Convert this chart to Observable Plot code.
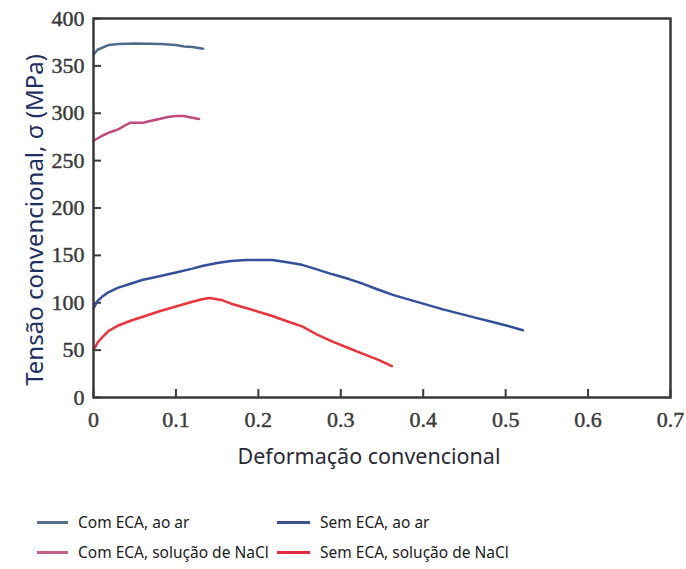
<!DOCTYPE html>
<html>
<head>
<meta charset="utf-8">
<script src="https://cdn.jsdelivr.net/npm/d3@7"></script>
<script src="https://cdn.jsdelivr.net/npm/@observablehq/plot@0.6"></script>
<style>
  html, body { margin: 0; padding: 0; background: #fff; }
  #wrap { position: relative; width: 686px; height: 569px; overflow: hidden; }
  .leg { position: absolute; font-family: "Noto Sans", sans-serif; font-size: 15.5px; color: #1a1a1a; white-space: nowrap; line-height: 20px; }
  .sw { position: absolute; height: 2.5px; }
  g[aria-label="x-axis tick label"] text, g[aria-label="y-axis tick label"] text { stroke: #3a3a3a; stroke-width: 0.45px; }
</style>
</head>
<body>
<div id="wrap"></div>
<script>
// ---- data ----
const comArX = [0, 0.005, 0.018, 0.031, 0.05, 0.082, 0.1, 0.11, 0.12, 0.133];
const comArY = [362, 367, 372, 373, 373.5, 373, 372, 370.5, 370, 368];

const comNaClX = [0, 0.01, 0.02, 0.03, 0.04, 0.045, 0.06, 0.07, 0.08, 0.09, 0.1, 0.11, 0.115, 0.128];
const comNaClY = [271, 276, 280, 283, 288, 290, 290, 292, 294, 296, 297, 297, 296, 294];

const semArX = [0, 0.005, 0.01, 0.018, 0.03, 0.045, 0.059, 0.08, 0.1, 0.12, 0.133, 0.15, 0.167, 0.185, 0.2, 0.217, 0.233, 0.253, 0.27, 0.29, 0.31, 0.327, 0.345, 0.364, 0.384, 0.404, 0.424, 0.444, 0.464, 0.483, 0.503, 0.521];
const semArY = [94, 102, 106, 111, 116, 120, 124, 128, 132, 136, 139, 142, 144, 145, 145, 145, 143, 140, 135.5, 130, 125, 120, 114, 108, 103, 98, 93, 88.5, 84, 80, 75.5, 71];

const semNaClX = [0, 0.005, 0.01, 0.018, 0.03, 0.045, 0.059, 0.08, 0.1, 0.12, 0.133, 0.141, 0.155, 0.167, 0.185, 0.2, 0.217, 0.233, 0.253, 0.27, 0.29, 0.31, 0.327, 0.345, 0.362];
const semNaClY = [50, 58, 63, 70, 76, 81, 85, 91, 96, 101, 104, 105, 103, 99, 94.5, 90.5, 86, 81, 75, 67, 59, 52, 46, 40, 33];

const seriesNames = ["Com ECA, ao ar", "Sem ECA, ao ar", "Com ECA, solução de NaCl", "Sem ECA, solução de NaCl"];
const seriesColors = ["#4e6b8c", "#34509a", "#c04a7e", "#e8343c"];

const xTicks = [0, 0.1, 0.2, 0.3, 0.4, 0.5, 0.6, 0.7];
const xTickLabels = ["0", "0.1", "0.2", "0.3", "0.4", "0.5", "0.6", "0.7"];
const yTicks = [0, 50, 100, 150, 200, 250, 300, 350, 400];

const xLabel = "Deformação convencional";
const yLabel = "Tensão convencional, σ (MPa)";

// ---- build table ----
function toRows(xs, ys, name) { return xs.map((x, i) => ({x, y: ys[i], s: name})); }
const rows = [
  ...toRows(comArX, comArY, seriesNames[0]),
  ...toRows(semArX, semArY, seriesNames[1]),
  ...toRows(comNaClX, comNaClY, seriesNames[2]),
  ...toRows(semNaClX, semNaClY, seriesNames[3])
];

const W = 686, H = 480;
const mL = 93, mR = 16, mT = 18, mB = 83;
const frameW = W - mL - mR, frameH = H - mT - mB;
const tickLen = 8;

const chart = Plot.plot({
  width: W, height: H,
  marginLeft: mL, marginRight: mR, marginTop: mT, marginBottom: mB,
  style: {background: "#fff", overflow: "visible"},
  x: {domain: [0, 0.7]},
  y: {domain: [0, 400]},
  color: {domain: seriesNames, range: seriesColors},
  marks: [
    Plot.axisX(xTicks, {tickSize: 0, tickPadding: 14, tickFormat: (d, i) => xTickLabels[i], fontSize: 22, fontFamily: "Liberation Serif, serif", fill: "#3a3a3a", label: null}),
    Plot.axisY(yTicks, {tickSize: 0, tickPadding: 9, fontSize: 22, fontFamily: "Liberation Serif, serif", fill: "#3a3a3a", label: null}),
    Plot.tickX(xTicks, {x: d => d, insetTop: frameH - tickLen, stroke: "#3a3a3a", strokeWidth: 2}),
    Plot.tickY(yTicks, {y: d => d, insetRight: frameW - tickLen, stroke: "#3a3a3a", strokeWidth: 2}),
    Plot.line(rows, {x: "x", y: "y", z: "s", stroke: "s", strokeWidth: 2.5, curve: "linear"}),
    Plot.frame({stroke: "#3a3a3a", strokeWidth: 2.5}),
    Plot.text([xLabel], {frameAnchor: "bottom", lineAnchor: "middle", dy: 60, dx: -13, fontSize: 21.5, fontFamily: "Noto Sans, sans-serif", fill: "#2a2a35"}),
    Plot.text([yLabel], {frameAnchor: "left", textAnchor: "middle", lineAnchor: "middle", rotate: -90, dx: -58, dy: 12, fontSize: 24, fontFamily: "Noto Sans, sans-serif", fill: "#1f2f5f"})
  ]
});

const wrap = document.getElementById("wrap");
wrap.appendChild(chart);

// legend
const legPos = [
  {sx: 37, tx: 78, y: 522},
  {sx: 277, tx: 320, y: 522},
  {sx: 37, tx: 78, y: 552},
  {sx: 277, tx: 320, y: 552}
];
const legSwatch = ["#5a7088", "#3d4f8f", "#c0608a", "#e03040"];
seriesNames.forEach((name, i) => {
  const p = legPos[i];
  const sw = document.createElement("div");
  sw.className = "sw";
  sw.style.left = p.sx + "px";
  sw.style.width = (p.tx - p.sx - 10) + "px";
  sw.style.top = (p.y - 1) + "px";
  sw.style.background = legSwatch[i];
  wrap.appendChild(sw);
  const t = document.createElement("div");
  t.className = "leg";
  t.style.left = p.tx + "px";
  t.style.top = (p.y - 10) + "px";
  t.textContent = name;
  wrap.appendChild(t);
});
</script>
</body>
</html>
